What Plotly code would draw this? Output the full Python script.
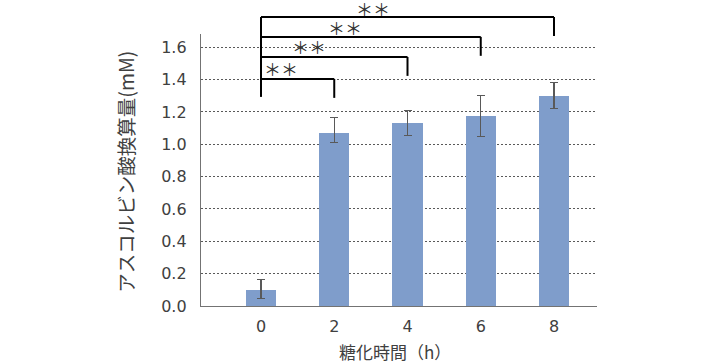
import plotly.graph_objects as go

# ---- data ----
hours = [0, 2, 4, 6, 8]
values = [0.100, 1.068, 1.132, 1.175, 1.296]
err_plus = [0.065, 0.097, 0.078, 0.128, 0.085]
err_minus = [0.053, 0.057, 0.076, 0.126, 0.074]
y_ticks = [0.0, 0.2, 0.4, 0.6, 0.8, 1.0, 1.2, 1.4, 1.6]

# significance brackets (from 0 h to each target)
bracket_targets = [2, 4, 6, 8]
bracket_levels = [1.404, 1.540, 1.664, 1.787]
bracket_base = 1.293
bracket_drop = 0.117
sig_labels = ["＊＊", "＊＊", "＊＊", "＊＊"]
sig_x = [0.55, 1.31, 2.29, 3.06]
sig_y = [1.466, 1.602, 1.725, 1.840]

x_title = "糖化時間（h）"
y_title = "アスコルビン酸換算量(mM)"

YMAX = 1.682
XRANGE = [-1.638, 9.174]

BAR_COLOR = "#7F9DCB"
TEXT_COLOR = "#404040"
AXIS_COLOR = "#737373"

fig = go.Figure()
fig.add_trace(go.Bar(
    x=hours, y=values, width=0.82,
    marker=dict(color=BAR_COLOR, line=dict(width=0)),
    error_y=dict(type="data", symmetric=False, array=err_plus, arrayminus=err_minus,
                 color="#595959", thickness=1.3, width=4),
    showlegend=False,
))

shapes = []
line_style = dict(color="#000000", width=2)
shapes.append(dict(type="line", xref="x", yref="paper",
                   x0=hours[0], x1=hours[0],
                   y0=bracket_base / YMAX, y1=max(bracket_levels) / YMAX,
                   line=line_style))
for t, lv in zip(bracket_targets, bracket_levels):
    shapes.append(dict(type="line", xref="x", yref="paper",
                       x0=hours[0], x1=t, y0=lv / YMAX, y1=lv / YMAX, line=line_style))
    shapes.append(dict(type="line", xref="x", yref="paper",
                       x0=t, x1=t, y0=lv / YMAX, y1=(lv - bracket_drop) / YMAX, line=line_style))

annotations = []
for lab, sx, sy in zip(sig_labels, sig_x, sig_y):
    annotations.append(dict(text=lab, x=sx, y=sy / YMAX, xref="x", yref="paper",
                            showarrow=False, xanchor="center", yanchor="middle",
                            font=dict(size=17, color="#333333",
                                      family="Noto Sans CJK JP")))
annotations.append(dict(text=y_title, x=-0.1894, y=0.494, xref="paper", yref="paper",
                        textangle=-90, showarrow=False, xanchor="center", yanchor="middle",
                        font=dict(size=19.5, color=TEXT_COLOR, family="Noto Sans CJK JP")))
annotations.append(dict(text=x_title, x=0.49, y=-0.168, xref="paper", yref="paper",
                        showarrow=False, xanchor="center", yanchor="middle",
                        font=dict(size=17, color=TEXT_COLOR, family="Noto Sans CJK JP")))

fig.update_layout(
    width=710, height=362,
    margin=dict(l=201, r=113, t=34, b=56),
    paper_bgcolor="white", plot_bgcolor="white",
    font=dict(family="DejaVu Sans, Noto Sans CJK JP", size=16, color=TEXT_COLOR),
    shapes=shapes, annotations=annotations,
    bargap=0,
)
fig.update_xaxes(
    range=XRANGE, tickvals=hours, ticktext=[str(h) for h in hours],
    showline=True, linecolor=AXIS_COLOR, linewidth=1.3,
    showgrid=False, zeroline=False, ticks="", ticklabelstandoff=6,
    tickfont=dict(size=16, color=TEXT_COLOR),
)
fig.update_yaxes(
    range=[0, YMAX], tickvals=y_ticks, ticktext=[f"{v:.1f}" for v in y_ticks],
    showline=True, linecolor=AXIS_COLOR, linewidth=1.3,
    showgrid=True, gridcolor="#595959", gridwidth=1, griddash="2px,2px",
    zeroline=False, ticks="", ticklabelstandoff=10,
    tickfont=dict(size=16, color=TEXT_COLOR),
)

# remove the default page margin so the figure fills the window exactly
fig.write_html("out.html",
               config={"displayModeBar": False},
               post_script="document.body.style.margin='0';document.body.style.overflow='hidden';")
